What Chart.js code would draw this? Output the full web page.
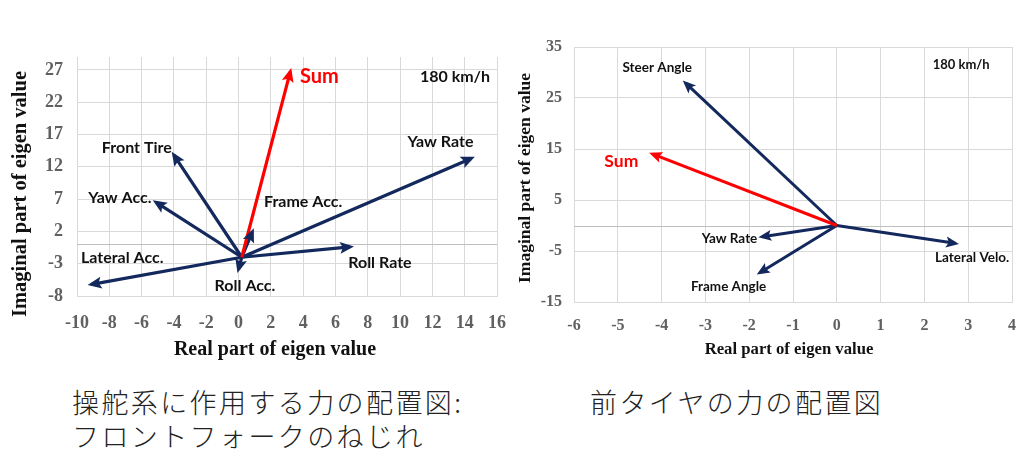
<!DOCTYPE html>
<html>
<head>
<meta charset="utf-8">
<script src="https://cdn.jsdelivr.net/npm/chart.js@4.4.1/dist/chart.umd.min.js"></script>
<style>
  body { margin: 0; width: 1024px; height: 469px; background: #fff; position: relative; overflow: hidden; }
  .box { position: absolute; top: 0; }
  .cap { position: absolute; font-family: "Noto Sans CJK JP"; font-weight: 300; font-size: 27px;
         letter-spacing: 2.4px; line-height: 34px; color: #222; white-space: nowrap; }
</style>
</head>
<body>
<div class="box" style="left:0;width:510px;height:370px"><canvas id="leftChart" width="510" height="370"></canvas></div>
<div class="box" style="left:510px;width:514px;height:370px"><canvas id="rightChart" width="514" height="370"></canvas></div>
<div class="cap" style="left:72px;top:385px">操舵系に作用する力の配置図:<br>フロントフォークのねじれ</div>
<div class="cap" style="left:590px;top:385px">前タイヤの力の配置図</div>

<script>
// Left chart: forces on the steering system (all vectors start from one point)
const leftNames = ['Sum', 'Yaw Rate', 'Front Tire', 'Yaw Acc.', 'Lateral Acc.', 'Roll Rate', 'Roll Acc.', 'Frame Acc.'];
const leftReal = [3.2, 14.4, -4.0, -5.1, -9.1, 6.9, 0.0, 0.85];
const leftImag = [26.7, 13.3, 13.8, 6.5, -6.2, -0.4, -3.85, 1.9];
const leftOrigin = [0.2, -2.0];
const leftYTicks = [-8, -3, 2, 7, 12, 17, 22, 27];

// Right chart: front tire forces
const rightNames = ['Sum', 'Steer Angle', 'Yaw Rate', 'Frame Angle', 'Lateral Velo.'];
const rightReal = [-4.2, -3.45, -1.7, -1.75, 2.7];
const rightImag = [14.0, 27.9, -2.2, -9.2, -3.5];
const rightOrigin = [0, 0];
const rightYTicks = [-15, -5, 5, 15, 25, 35];

const NAVY = '#13285c';
const RED = '#ff0000';
const GRID = '#d9d9d9';

// where each name label sits (data coords)
const leftLabelPos = {
  'Sum': [3.8, 26.0, 'left'], 'Yaw Rate': [12.5, 15.9], 'Front Tire': [-6.3, 15.0],
  'Yaw Acc.': [-7.35, 7.25], 'Lateral Acc.': [-7.2, -2.1], 'Roll Rate': [8.75, -2.85],
  'Roll Acc.': [0.4, -6.45], 'Frame Acc.': [4.0, 6.5]
};
const rightLabelPos = {
  'Sum': [-4.92, 12.65], 'Steer Angle': [-4.1, 30.9], 'Yaw Rate': [-2.45, -2.65],
  'Frame Angle': [-2.47, -11.9], 'Lateral Velo.': [3.09, -6.4]
};

function makeDatasets(names, re, im, origin, width) {
  return names.map((n, i) => ({
    label: n,
    data: [{ x: origin[0], y: origin[1] }, { x: re[i], y: im[i] }],
    showLine: true,
    borderColor: n === 'Sum' ? RED : NAVY,
    backgroundColor: n === 'Sum' ? RED : NAVY,
    borderWidth: width,
    pointRadius: 0,
    pointHoverRadius: 0
  }));
}

// zero line + arrow heads + text labels
const vectorPlugin = {
  id: 'vectors',
  beforeDatasetsDraw(chart) {
    const { ctx, chartArea, scales } = chart;
    const y0 = scales.y.getPixelForValue(0);
    ctx.save();
    ctx.strokeStyle = '#bfbfbf';
    ctx.lineWidth = 1;
    ctx.beginPath();
    ctx.moveTo(chartArea.left, Math.round(y0) + 0.5);
    ctx.lineTo(chartArea.right, Math.round(y0) + 0.5);
    ctx.stroke();
    ctx.restore();
  },
  afterDatasetsDraw(chart, args, opts) {
    const ctx = chart.ctx;
    chart.data.datasets.forEach((ds, i) => {
      const pts = chart.getDatasetMeta(i).data;
      const a = pts[0], b = pts[1];
      const ang = Math.atan2(b.y - a.y, b.x - a.x);
      const len = opts.headLen, half = opts.headHalf;
      const tx = b.x + Math.cos(ang) * 4, ty = b.y + Math.sin(ang) * 4;
      ctx.save();
      ctx.translate(tx, ty);
      ctx.rotate(ang);
      ctx.fillStyle = ds.borderColor;
      ctx.beginPath();
      ctx.moveTo(0, 0);
      ctx.lineTo(-len, -half);
      ctx.lineTo(-len * 0.8, 0);
      ctx.lineTo(-len, half);
      ctx.closePath();
      ctx.fill();
      ctx.restore();
    });
  },
  afterDraw(chart, args, opts) {
    const { ctx, scales } = chart;
    ctx.save();
    ctx.textBaseline = 'middle';
    chart.data.datasets.forEach(ds => {
      const p = opts.labels[ds.label];
      if (!p) return;
      const isSum = ds.label === 'Sum';
      ctx.fillStyle = isSum ? RED : '#111';
      ctx.font = 'bold ' + (isSum ? opts.sumSize : opts.size) + 'px Lato';
      ctx.textAlign = p[2] || 'center';
      ctx.fillText(ds.label, scales.x.getPixelForValue(p[0]), scales.y.getPixelForValue(p[1]));
    });
    // speed note
    ctx.fillStyle = '#111';
    ctx.font = 'bold ' + opts.noteSize + 'px Lato';
    ctx.textAlign = 'center';
    ctx.fillText('180 km/h', scales.x.getPixelForValue(opts.note[0]), scales.y.getPixelForValue(opts.note[1]));
    // axis titles
    ctx.fillStyle = '#111';
    ctx.font = 'bold ' + opts.xTitleSize + 'px "Liberation Serif"';
    ctx.fillText('Real part of eigen value', opts.xTitle[0], opts.xTitle[1]);
    ctx.font = 'bold ' + opts.yTitleSize + 'px "Liberation Serif"';
    ctx.translate(opts.yTitle[0], opts.yTitle[1]);
    ctx.rotate(-Math.PI / 2);
    ctx.fillText('Imaginal part of eigen value', 0, 0);
    ctx.restore();
  }
};

function axisOpts(min, max, step, tickList, size, pad, fitSize) {
  return {
    type: 'linear', min: min, max: max,
    grid: { color: GRID, drawTicks: false },
    border: { color: GRID },
    ticks: {
      stepSize: step, padding: pad, color: '#606060',
      font: { family: 'Liberation Serif', size: size, weight: 'bold' }
    },
    afterBuildTicks: tickList ? (s => { s.ticks = tickList.map(v => ({ value: v })); }) : undefined,
    afterFit: s => {
      fitSize(s);
      s.paddingLeft = 0; s.paddingRight = 0; s.paddingTop = 0; s.paddingBottom = 0;
    }
  };
}

new Chart(document.getElementById('leftChart'), {
  type: 'scatter',
  data: { datasets: makeDatasets(leftNames, leftReal, leftImag, leftOrigin, 3.2) },
  options: {
    responsive: false, animation: false,
    layout: { padding: { left: 0, top: 57, right: 13, bottom: 0 } },
    scales: {
      x: axisOpts(-10, 16, 2, null, 18, 17, s => { s.height = 74; }),
      y: axisOpts(-8, 29, 5, leftYTicks, 18, 14, s => { s.width = 77; })
    },
    plugins: {
      legend: { display: false }, tooltip: { enabled: false },
      vectors: {
        labels: leftLabelPos, size: 16, sumSize: 20, noteSize: 16, note: [13.4, 26.0],
        headLen: 14, headHalf: 6, xTitleSize: 20, yTitleSize: 20.5,
        xTitle: [275, 350], yTitle: [21, 194]
      }
    }
  },
  plugins: [vectorPlugin]
});

new Chart(document.getElementById('rightChart'), {
  type: 'scatter',
  data: { datasets: makeDatasets(rightNames, rightReal, rightImag, rightOrigin, 3) },
  options: {
    responsive: false, animation: false,
    layout: { padding: { left: 0, top: 47, right: 12, bottom: 0 } },
    scales: {
      x: axisOpts(-6, 4, 1, null, 16, 14, s => { s.height = 68; }),
      y: axisOpts(-15, 35, 10, rightYTicks, 16, 12, s => { s.width = 64; })
    },
    plugins: {
      legend: { display: false }, tooltip: { enabled: false },
      vectors: {
        labels: rightLabelPos, size: 13.5, sumSize: 17.5, noteSize: 13, note: [2.84, 31.5],
        headLen: 13, headHalf: 5.5, xTitleSize: 16.7, yTitleSize: 17.5,
        xTitle: [279, 350], yTitle: [15, 178]
      }
    }
  },
  plugins: [vectorPlugin]
});
</script>
</body>
</html>
